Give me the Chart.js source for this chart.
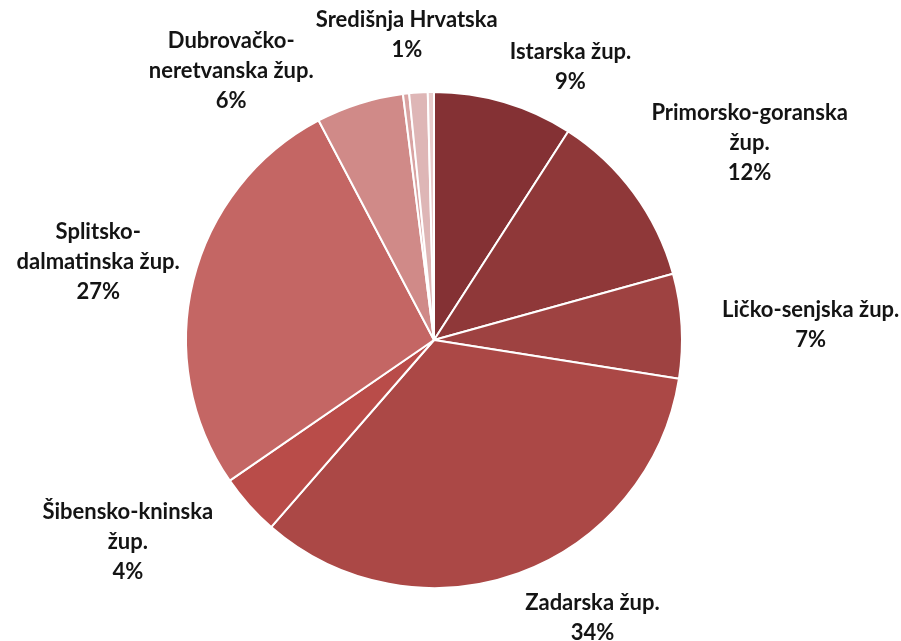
<!DOCTYPE html>
<html>
<head>
<meta charset="utf-8">
<script src="https://cdn.jsdelivr.net/npm/chart.js@4"></script>
<style>
  html, body { margin: 0; padding: 0; background: #ffffff; }
  #wrap { width: 901px; height: 641px; position: relative; }
</style>
</head>
<body>
<div id="wrap"><canvas id="c" width="901" height="641"></canvas></div>
<script>
// ---- data ----
const categories = [
  "Istarska žup.",
  "Primorsko-goranska\nžup.",
  "Ličko-senjska žup.",
  "Zadarska žup.",
  "Šibensko-kninska\nžup.",
  "Splitsko-\ndalmatinska žup.",
  "Dubrovačko-\nneretvanska žup.",
  "Ostalo (a)",
  "Središnja Hrvatska",
  "Ostalo (b)"
];
const values = [9.1, 11.6, 6.8, 33.9, 4.0, 26.9, 5.7, 0.4, 1.2, 0.4];
const colors = ["#843134", "#8F3839", "#9E4241", "#AB4846", "#B94C49", "#C46664", "#D08A88", "#D9A3A2", "#DEB6B6", "#E9CBCB"];

// label layout tweaks (angle nudge in degrees, distance as multiple of radius)
const labelNudge = [10.2, 4.4, 0.9, -9.7, 8.3, -0.8, -19.5, 0, -1.5, 0];
const labelDist  = [1.23, 1.50, 1.52, 1.29, 1.48, 1.39, 1.36, 1.3, 1.235, 1.3];

const total = values.reduce((a, b) => a + b, 0);

const labelPlugin = {
  id: 'outsideLabels',
  afterDatasetsDraw(chart) {
    const ctx = chart.ctx;
    const meta = chart.getDatasetMeta(0);
    ctx.save();
    ctx.font = "bold 22px Lato";
    ctx.fillStyle = "#141414";
    ctx.textAlign = "center";
    ctx.textBaseline = "middle";
    const lineH = 30;
    meta.data.forEach((arc, i) => {
      const pct = Math.round(values[i] / total * 100);
      if (pct < 1) return;
      const p = arc.getProps(['x', 'y', 'startAngle', 'endAngle', 'outerRadius'], true);
      const mid = (p.startAngle + p.endAngle) / 2 + labelNudge[i] * Math.PI / 180;
      const d = p.outerRadius * labelDist[i];
      const cx = p.x + Math.cos(mid) * d;
      const cy = p.y + Math.sin(mid) * d;
      const lines = categories[i].split("\n").concat([pct + "%"]);
      const top = cy - (lines.length - 1) * lineH / 2;
      lines.forEach((t, k) => ctx.fillText(t, cx, top + k * lineH));
    });
    ctx.restore();
  }
};

new Chart(document.getElementById('c'), {
  type: 'pie',
  data: {
    labels: categories,
    datasets: [{
      data: values,
      backgroundColor: colors,
      borderColor: "#ffffff",
      borderWidth: 2
    }]
  },
  options: {
    responsive: false,
    animation: false,
    layout: { padding: { top: 91, bottom: 52, left: 0, right: 33 } },
    plugins: {
      legend: { display: false },
      tooltip: { enabled: false }
    }
  },
  plugins: [labelPlugin]
});
</script>
</body>
</html>
